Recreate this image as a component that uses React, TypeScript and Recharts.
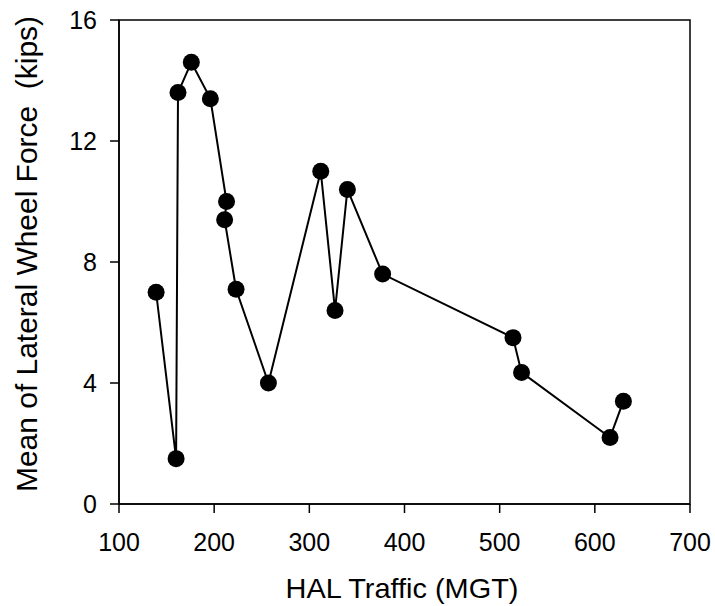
import React from 'react';
import { LineChart, Line, XAxis, YAxis, ReferenceArea } from 'recharts';

// HAL traffic (MGT) vs mean lateral wheel force (kips), in plotting order
const traffic = [139, 160, 162, 176, 196, 213, 211, 223, 257, 312, 327, 340, 377, 514, 523, 616, 630];
const lateralForce = [7.0, 1.5, 13.6, 14.6, 13.4, 10.0, 9.4, 7.1, 4.0, 11.0, 6.4, 10.4, 7.6, 5.5, 4.35, 2.2, 3.4];
const xTicks = [100, 200, 300, 400, 500, 600, 700];
const yTicks = [0, 4, 8, 12, 16];

const data = traffic.map((t, i) => ({ t, f: lateralForce[i] }));

const FONT = '"Liberation Sans", Arial, sans-serif';

const YLabel = () => (
  <text x={37} y={254} transform="rotate(-90, 37, 254)" textAnchor="middle"
    fontSize={29} fontFamily={FONT} fill="#000" style={{ whiteSpace: 'pre' }}
    textLength={476} lengthAdjust="spacingAndGlyphs">
    Mean of Lateral Wheel Force  (kips)
  </text>
);

const XLabel = () => (
  <text x={402} y={598} textAnchor="middle" fontSize={28} fontFamily={FONT} fill="#000"
    textLength={233} lengthAdjust="spacingAndGlyphs">
    HAL Traffic (MGT)
  </text>
);

export default function App() {
  return (
    <div style={{ position: 'absolute', left: 0, top: 0, background: '#fff' }}>
      <LineChart width={715} height={606} data={data} margin={{ top: 20, right: 25, bottom: 0, left: 0 }}>
        <XAxis dataKey="t" type="number" domain={[100, 700]} ticks={xTicks} height={102}
          tickSize={9} tickMargin={20} stroke="#000" strokeWidth={1.5}
          tick={{ fill: '#000', fontSize: 25, fontFamily: FONT }} label={<XLabel />} />
        <YAxis dataKey="f" type="number" domain={[0, 16]} ticks={yTicks} width={119}
          tickSize={9} tickMargin={13} stroke="#000" strokeWidth={1.5}
          tick={{ fill: '#000', fontSize: 25, fontFamily: FONT }} label={<YLabel />} />
        <ReferenceArea x1={100} x2={700} y1={0} y2={16} fill="none" stroke="#000" strokeWidth={1.5} ifOverflow="visible" />
        <Line dataKey="f" stroke="#000" strokeWidth={2} isAnimationActive={false}
          dot={{ r: 8.5, fill: '#000', stroke: 'none' }} activeDot={false} />
      </LineChart>
    </div>
  );
}
